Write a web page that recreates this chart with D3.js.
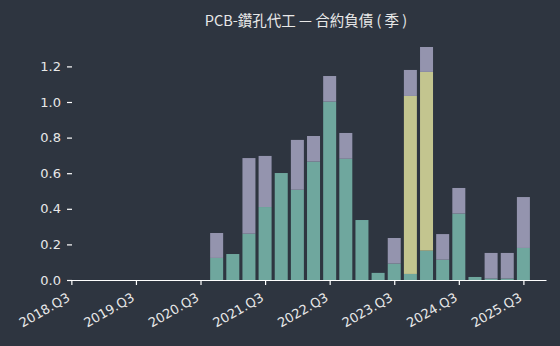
<!DOCTYPE html>
<html>
<head>
<meta charset="utf-8">
<script src="https://cdn.jsdelivr.net/npm/d3@7"></script>
<style>
  body { margin: 0; background: #2e3540; }
  svg { display: block; }
</style>
</head>
<body>
<svg id="chart" width="560" height="346"></svg>
<script>
// quarters from 2018.Q3 onwards, only the ones with bars are listed
const quarters = ['2020.Q4', '2021.Q1', '2021.Q2', '2021.Q3', '2021.Q4', '2022.Q1', '2022.Q2', '2022.Q3',
  '2022.Q4', '2023.Q1', '2023.Q2', '2023.Q3', '2023.Q4', '2024.Q1', '2024.Q2', '2024.Q3',
  '2024.Q4', '2025.Q1', '2025.Q2', '2025.Q3'];
const tealVals = [0.124, 0.146, 0.26, 0.41, 0.601, 0.507, 0.665, 1.002,
  0.681, 0.337, 0.04, 0.092, 0.034, 0.165, 0.114, 0.373,
  0.017, 0.008, 0.008, 0.18];
const yellowVals = [0, 0, 0, 0, 0, 0, 0, 0,
  0, 0, 0, 0, 1.0, 1.004, 0, 0,
  0, 0, 0, 0];
const purpleVals = [0.14, 0, 0.425, 0.287, 0, 0.28, 0.144, 0.144,
  0.145, 0, 0, 0.144, 0.146, 0.14, 0.144, 0.144,
  0, 0.144, 0.144, 0.286];
const tickLabels = ['2018.Q3', '2019.Q3', '2020.Q3', '2021.Q3', '2022.Q3', '2023.Q3', '2024.Q3', '2025.Q3'];
const yTicks = [0, 0.2, 0.4, 0.6, 0.8, 1.0, 1.2];

const svg = d3.select('#chart');
const colors = { teal: '#6fa79e', yellow: '#c3c58f', purple: '#9494ae' };

function qIndex(q) {
  const [y, p] = q.split('.Q').map(Number);
  return (y - 2018) * 4 + (p - 3);
}

const x = d3.scaleLinear().domain([-0.27, 29.4]).range([67, 546]);
const y = d3.scaleLinear().domain([0, 1.2]).range([280, 66.4]);
const barW = 13;

const data = quarters.map((q, i) => ({ q, i: qIndex(q), teal: tealVals[i], yellow: yellowVals[i], purple: purpleVals[i] }));
const stack = d3.stack().keys(['teal', 'yellow', 'purple'])(data);

svg.append('g')
  .selectAll('g')
  .data(stack)
  .join('g')
  .attr('fill', (s) => colors[s.key])
  .selectAll('rect')
  .data((s) => s)
  .join('rect')
  .attr('x', (d) => x(d.data.i) - barW / 2)
  .attr('y', (d) => y(d[1]))
  .attr('width', barW)
  .attr('height', (d) => Math.max(0, y(d[0]) - y(d[1])));

// x axis
const xAxis = svg.append('g')
  .attr('transform', 'translate(0,280)')
  .call(d3.axisBottom(x)
    .tickValues(tickLabels.map(qIndex))
    .tickFormat((d, i) => tickLabels[i])
    .tickSize(5)
    .tickSizeOuter(0));
xAxis.select('.domain').attr('stroke', '#ffffff').attr('stroke-width', 1.2);
xAxis.selectAll('.tick line').attr('stroke', '#ffffff').attr('stroke-width', 1.2);
xAxis.selectAll('.tick text')
  .attr('fill', '#e8e8e8')
  .attr('font-family', 'DejaVu Sans, sans-serif')
  .attr('font-size', 13)
  .attr('text-anchor', 'end')
  .attr('dy', null)
  .attr('y', 0)
  .attr('transform', 'translate(-1,20) rotate(-30)');

// y axis
const yAxis = svg.append('g')
  .attr('transform', 'translate(72,0)')
  .call(d3.axisLeft(y).tickValues(yTicks).tickFormat(d3.format('.1f')).tickSize(5).tickPadding(6));
yAxis.select('.domain').remove();
yAxis.selectAll('.tick line').attr('stroke', '#ffffff').attr('stroke-width', 1.2);
yAxis.selectAll('.tick text')
  .attr('fill', '#e8e8e8')
  .attr('font-family', 'DejaVu Sans, sans-serif')
  .attr('font-size', 13);

svg.append('text')
  .attr('x', 306)
  .attr('y', 26)
  .attr('text-anchor', 'middle')
  .attr('fill', '#e8e8e8')
  .attr('font-family', 'Noto Sans CJK TC, Noto Sans, sans-serif')
  .attr('font-size', 14.5)
  .attr('xml:space', 'preserve')
  .text('PCB-鑽孔代工 — 合約負債 ( 季 )');
</script>
</body>
</html>
